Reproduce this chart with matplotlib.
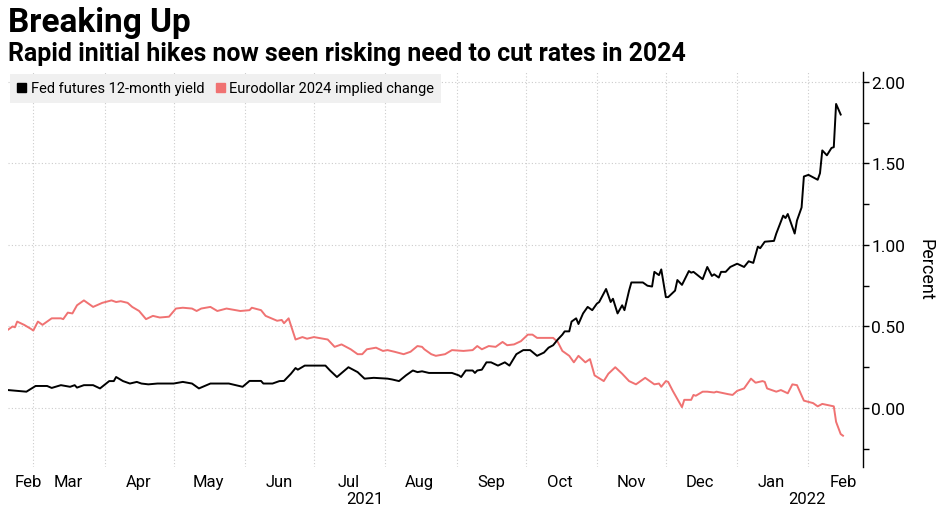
import numpy as np
import pandas as pd
import matplotlib
matplotlib.use("Agg")
import matplotlib.pyplot as plt
import matplotlib.patches as mpatches

plt.rcParams['font.family'] = ['Roboto', 'DejaVu Sans']

# first day shown on the chart; series x values are days after it
START = pd.Timestamp("2021-02-18")

# Fed futures 12-month yield (percent)
fed_day = [0, 4, 8, 12, 17, 19, 23, 27, 29, 30, 33, 37, 40, 44, 46, 47, 50, 53, 56, 58,
           61, 65, 69, 72, 76, 80, 83, 88, 93, 96, 102, 105, 110, 111, 115, 118, 120, 123, 125, 126,
           129, 131, 138, 140, 143, 148, 152, 155, 159, 165, 167, 170, 173, 176, 178, 180, 183, 188, 193, 196,
           197, 199, 202, 203, 204, 206, 208, 210, 213, 216, 218, 221, 224, 227, 230, 233, 235, 237, 239, 241,
           242, 244, 245, 247, 248, 250, 252, 254, 256, 257, 260, 262, 263, 265, 267, 268, 270, 271, 276, 278,
           280, 281, 283, 284, 286, 287, 290, 291, 293, 296, 297, 298, 302, 304, 306, 307, 309, 310, 312, 314,
           317, 320, 322, 324, 326, 327, 329, 333, 334, 337, 338, 339, 342, 343, 345, 346, 348, 352, 353, 354,
           356, 358, 359, 360, 362]
fed_yield = [0.11, 0.105, 0.10, 0.135, 0.135, 0.123, 0.14, 0.13, 0.14, 0.125, 0.14, 0.14, 0.12, 0.165, 0.165, 0.19, 0.165, 0.15, 0.16, 0.15,
             0.145, 0.15, 0.15, 0.15, 0.16, 0.15, 0.12, 0.15, 0.15, 0.15, 0.13, 0.166, 0.166, 0.15, 0.15, 0.165, 0.166, 0.21, 0.245, 0.235,
             0.26, 0.26, 0.26, 0.23, 0.19, 0.25, 0.22, 0.18, 0.185, 0.18, 0.175, 0.165, 0.20, 0.23, 0.22, 0.225, 0.215, 0.215, 0.215, 0.20,
             0.19, 0.23, 0.23, 0.215, 0.23, 0.235, 0.28, 0.28, 0.26, 0.28, 0.26, 0.33, 0.355, 0.355, 0.32, 0.34, 0.37, 0.385, 0.42, 0.45,
             0.47, 0.47, 0.53, 0.55, 0.515, 0.58, 0.62, 0.60, 0.64, 0.65, 0.73, 0.65, 0.67, 0.58, 0.63, 0.60, 0.72, 0.77, 0.77, 0.75,
             0.745, 0.835, 0.815, 0.85, 0.68, 0.68, 0.72, 0.785, 0.755, 0.84, 0.83, 0.835, 0.79, 0.865, 0.81, 0.82, 0.80, 0.835, 0.835, 0.865,
             0.885, 0.865, 0.90, 0.89, 0.99, 0.98, 1.02, 1.025, 1.07, 1.18, 1.165, 1.19, 1.07, 1.15, 1.23, 1.42, 1.43, 1.40, 1.44, 1.58,
             1.55, 1.595, 1.60, 1.865, 1.80]

# Eurodollar 2024 implied change (percent)
ed_day = [0, 2, 3, 4, 7, 10, 11, 13, 15, 19, 23, 24, 26, 28, 30, 33, 37, 41, 45, 47,
          49, 52, 54, 57, 60, 63, 66, 70, 73, 76, 80, 82, 84, 88, 91, 95, 101, 105, 106, 110,
          112, 117, 119, 120, 122, 125, 128, 130, 133, 137, 139, 142, 145, 149, 152, 154, 156, 160, 163, 165,
          168, 172, 175, 178, 180, 181, 184, 186, 190, 193, 198, 202, 204, 206, 209, 212, 215, 217, 220, 223,
          226, 228, 230, 235, 237, 239, 241, 244, 246, 248, 251, 253, 255, 259, 261, 264, 267, 270, 273, 277,
          281, 283, 284, 286, 287, 289, 293, 294, 297, 298, 299, 302, 304, 307, 308, 313, 315, 317, 320, 323,
          325, 328, 329, 330, 334, 336, 339, 341, 343, 346, 350, 352, 354, 359, 360, 362, 363]
ed_change = [0.48, 0.50, 0.495, 0.53, 0.51, 0.485, 0.475, 0.53, 0.51, 0.55, 0.55, 0.545, 0.585, 0.58, 0.63, 0.66, 0.62, 0.645, 0.66, 0.65,
             0.655, 0.645, 0.62, 0.595, 0.545, 0.565, 0.555, 0.56, 0.61, 0.615, 0.61, 0.595, 0.61, 0.62, 0.595, 0.61, 0.595, 0.60, 0.615, 0.60,
             0.565, 0.535, 0.54, 0.52, 0.55, 0.42, 0.435, 0.425, 0.435, 0.425, 0.42, 0.375, 0.39, 0.36, 0.33, 0.33, 0.36, 0.37, 0.35, 0.355,
             0.345, 0.33, 0.345, 0.38, 0.375, 0.36, 0.33, 0.32, 0.33, 0.355, 0.35, 0.355, 0.38, 0.36, 0.38, 0.375, 0.405, 0.385, 0.39, 0.41,
             0.45, 0.45, 0.43, 0.43, 0.43, 0.405, 0.35, 0.32, 0.28, 0.32, 0.28, 0.30, 0.20, 0.165, 0.21, 0.25, 0.21, 0.165, 0.145, 0.185,
             0.145, 0.15, 0.13, 0.165, 0.16, 0.105, 0.005, 0.05, 0.05, 0.08, 0.075, 0.10, 0.10, 0.095, 0.10, 0.085, 0.08, 0.105, 0.12, 0.18,
             0.155, 0.165, 0.16, 0.12, 0.10, 0.11, 0.09, 0.145, 0.14, 0.045, 0.03, 0.01, 0.025, 0.01, -0.085, -0.16, -0.17]

series_names = ["Fed futures 12-month yield", "Eurodollar 2024 implied change"]
series_colors = ["black", "#f07272"]

fed_dates = START + pd.to_timedelta(fed_day, unit="D")
ed_dates = START + pd.to_timedelta(ed_day, unit="D")

fig = plt.figure(figsize=(9.42, 5.10), dpi=100)
ax = fig.add_axes([8 / 942, 1 - 468 / 510, 855 / 942, 395 / 510])

ax.plot(ed_dates, ed_change, color=series_colors[1], lw=1.4, zorder=3)
ax.plot(fed_dates, fed_yield, color=series_colors[0], lw=1.4, zorder=4)

ax.set_xlim(START, START + pd.Timedelta(days=371.7))
ax.set_ylim(-0.362, 2.061)

# y axis on the right
ax.yaxis.tick_right()
ax.set_yticks([0, 0.5, 1.0, 1.5, 2.0])
ax.set_yticklabels(["%.2f" % v for v in [0, 0.5, 1.0, 1.5, 2.0]])
ax.set_yticks([-0.25, 0.25, 0.75, 1.25, 1.75], minor=True)
ax.tick_params(axis="y", which="both", direction="out", length=4, width=1, pad=2, labelsize=12.5)

# month labels sit mid-month, gridlines at month starts
month_starts = pd.date_range("2021-03-01", "2022-02-01", freq="MS")
label_dates = list(pd.date_range("2021-02-01", "2022-02-01", freq="MS") + pd.Timedelta(days=15))
label_dates[0] = START + pd.Timedelta(days=9)  # first label nudged inside the frame
ax.set_xticks(label_dates)
ax.set_xticklabels([d.strftime("%b") for d in label_dates])
ax.set_xticks(month_starts, minor=True)
ax.tick_params(axis="x", which="both", length=0, pad=5, labelsize=12)

for year in [2021, 2022]:
    ds = [d for d in label_dates if d.year == year]
    mid = ds[0] + (ds[-1] - ds[0]) / 2
    ax.text(mid, -0.062, str(year), transform=ax.get_xaxis_transform(),
            ha="center", va="top", fontsize=12)

ax.grid(axis="y", which="major", linestyle=(0, (1, 2)), color="#cccccc", lw=0.8)
ax.grid(axis="x", which="minor", linestyle=(0, (1, 2)), color="#cccccc", lw=0.8)
ax.set_axisbelow(True)

for side in ["top", "left", "bottom"]:
    ax.spines[side].set_visible(False)
ax.spines["right"].set_linewidth(1)

fig.text(925 / 942, 1 - 270 / 510, "Percent", rotation=270, ha="center", va="center", fontsize=13)

handles = [mpatches.Patch(color=c, label=n) for c, n in zip(series_colors, series_names)]
leg = ax.legend(handles=handles, loc="upper left", bbox_to_anchor=(0, 1), ncol=2,
                frameon=True, fancybox=False, facecolor="#f0f0f0", edgecolor="none", framealpha=1,
                handlelength=0.6, handleheight=0.6, handletextpad=0.3, columnspacing=0.8,
                borderaxespad=0.15, borderpad=0.5, fontsize=10.5)

fig.text(8 / 942, 1 - 32 / 510, "Breaking Up", fontsize=24, fontweight="bold", ha="left", va="baseline")
fig.text(8 / 942, 1 - 61 / 510, "Rapid initial hikes now seen risking need to cut rates in 2024",
         fontsize=17.9, fontweight="bold", ha="left", va="baseline")

fig.savefig("out.png", dpi=100)
